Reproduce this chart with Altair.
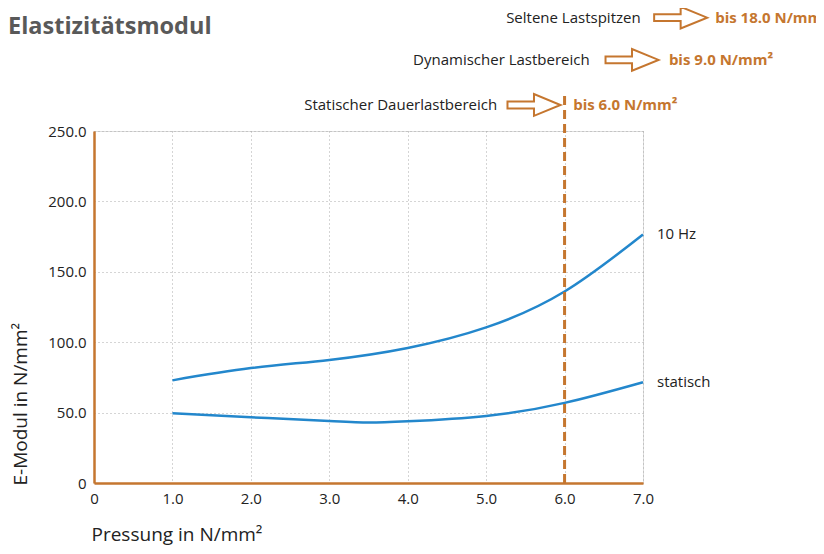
import altair as alt
import pandas as pd

# ---- data ----
x_10hz = [1, 2, 3, 4, 5, 6, 7]
y_10hz = [72.9, 81.6, 87.4, 95.9, 110.5, 136.0, 176.5]
x_stat = [1, 2, 3, 3.5, 4, 5, 6, 7]
y_stat = [49.5, 46.7, 44.0, 42.9, 43.8, 47.6, 56.9, 71.6]
series_names = ["10 Hz", "statisch"]

x_ticks = [0, 1, 2, 3, 4, 5, 6, 7]
y_ticks = [0, 50, 100, 150, 200, 250]

limit_x = 6.0  # statischer Dauerlastbereich bis 6.0 N/mm²

ann_labels = ["Seltene Lastspitzen", "Dynamischer Lastbereich", "Statischer Dauerlastbereich"]
ann_values = ["bis 18.0 N/mm²", "bis 9.0 N/mm²", "bis 6.0 N/mm²"]
ann_label_x = [6.97, 6.32, 5.14]
ann_arrow_x = [7.48, 6.86, 5.61]
ann_value_x = [7.92, 7.33, 6.11]
ann_y = [330.5, 300.5, 268.5]

ORANGE = "#C5762F"
BLUE = "#2387CC"
FONT = "Open Sans"

rows = []
for xv, yv in zip(x_10hz, y_10hz):
    rows.append({"x": xv, "y": yv, "series": series_names[0]})
for xv, yv in zip(x_stat, y_stat):
    rows.append({"x": xv, "y": yv, "series": series_names[1]})
df = pd.DataFrame(rows)

ends = pd.DataFrame({
    "x": [x_10hz[-1], x_stat[-1]],
    "y": [y_10hz[-1], y_stat[-1]],
    "series": series_names,
})

ann = pd.DataFrame({
    "label": ann_labels, "value": ann_values,
    "lx": ann_label_x, "ax": ann_arrow_x, "vx": ann_value_x, "y": ann_y,
})

xscale = alt.Scale(domain=[0, 7], nice=False, zero=False)
yscale = alt.Scale(domain=[0, 250], nice=False)

xaxis = alt.Axis(
    values=x_ticks,
    labelExpr="datum.value == 0 ? '0' : format(datum.value, '.1f')",
    labelFlush=False,
    title="Pressung in N/mm²",
    titleAnchor="start", titleAlign="left", titleX=-3, titleY=42,
    titleFontSize=19, titleFontWeight="normal", titleColor="#222222", titleFont=FONT,
    labelFontSize=15, labelColor="#222222", labelFont=FONT, labelPadding=8,
    ticks=False, domainColor=ORANGE, domainWidth=2.5,
    grid=True, gridDash=[1, 3], gridColor="#aaaaaa", gridWidth=1,
)
yaxis = alt.Axis(
    values=y_ticks,
    labelExpr="datum.value == 0 ? '0' : format(datum.value, '.1f')",
    labelFlush=False,
    title="E-Modul in N/mm²",
    titleAnchor="start", titleX=-64, titleY=354, titleAlign="left", titleAngle=270,
    titleFontSize=19, titleFontWeight="normal", titleColor="#222222", titleFont=FONT,
    labelFontSize=15, labelColor="#222222", labelFont=FONT, labelPadding=8,
    ticks=False, domainColor=ORANGE, domainWidth=2.5,
    grid=True, gridDash=[1, 3], gridColor="#aaaaaa", gridWidth=1,
)

lines = alt.Chart(df).mark_line(
    interpolate="natural", color=BLUE, strokeWidth=2.5
).encode(
    x=alt.X("x:Q", scale=xscale, axis=xaxis),
    y=alt.Y("y:Q", scale=yscale, axis=yaxis),
    detail="series:N",
)

end_labels = alt.Chart(ends).mark_text(
    align="left", baseline="middle", dx=14, dy=0, fontSize=15, font=FONT, color="#222222"
).encode(x="x:Q", y="y:Q", text="series:N")

rule = alt.Chart(pd.DataFrame({"x": [limit_x], "y": [0], "y2": [276]})).mark_rule(
    color=ORANGE, strokeWidth=3, strokeDash=[9, 5]
).encode(x="x:Q", y="y:Q", y2="y2:Q")

ann_text = alt.Chart(ann).mark_text(
    align="right", baseline="middle", fontSize=15, font=FONT, color="#222222"
).encode(x="lx:Q", y="y:Q", text="label:N")

ann_val = alt.Chart(ann).mark_text(
    align="left", baseline="middle", fontSize=15, fontWeight="bold", font=FONT, color=ORANGE
).encode(x="vx:Q", y="y:Q", text="value:N")

arrow_path = "M-1,-0.13 L0,-0.13 L0,-0.41 L1,0 L0,0.41 L0,0.13 L-1,0.13 Z"
ann_arrow = alt.Chart(ann).mark_point(
    shape=arrow_path, size=2809, filled=False, stroke=ORANGE, strokeWidth=2, opacity=1
).encode(x="ax:Q", y="y:Q")

chart = alt.layer(lines, end_labels, rule, ann_text, ann_arrow, ann_val).properties(
    width=549, height=352,
    autosize=alt.AutoSizeParams(type="none"),
    padding={"left": 86, "top": 123, "right": 173, "bottom": 63},
    title=alt.TitleParams(
        "Elastizitätsmodul", anchor="start", frame="group", dx=-86, offset=0, dy=36,
        fontSize=23.5, fontWeight="bold", color="#595959", font=FONT,
    ),
).configure_view(stroke=None).configure(background="white")

chart.save("out.html", embed_options={"renderer": "svg", "actions": False})
